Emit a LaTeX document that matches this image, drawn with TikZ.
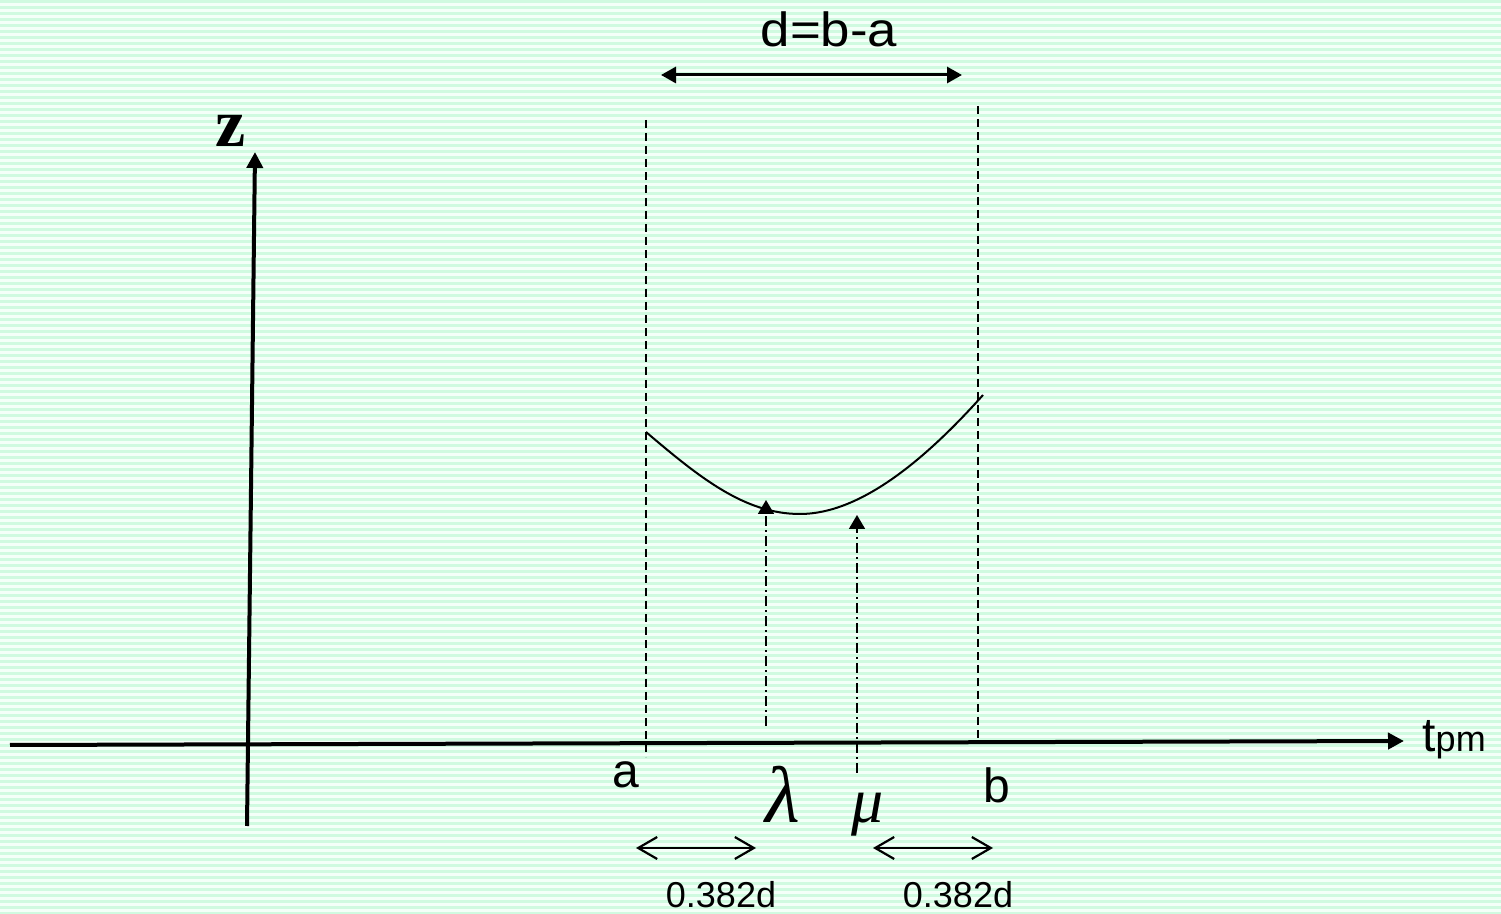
\documentclass[tikz,border=0pt]{standalone}
\usepackage{fontspec}
\setmainfont{Liberation Sans}
\newfontfamily\serifgr{Liberation Serif}
\usetikzlibrary{arrows.meta}
\definecolor{bgwhite}{RGB}{244,255,248}
\definecolor{bggreen}{RGB}{208,250,224}
\begin{document}
\begin{tikzpicture}[x=0.5pt,y=-0.5pt,
  axisline/.style={line width=2pt,-{Triangle[length=8pt,width=8pt]}},
  guide/.style={line width=0.7pt,dash pattern=on 4pt off 2.5pt},
  probe/.style={line width=0.9pt,dash pattern=on 5pt off 2pt on 1pt off 2pt,-{Triangle[length=7pt,width=8pt]}},
  spanarrow/.style={line width=1.5pt,{Triangle[length=7.5pt,width=8pt]}-{Triangle[length=7.5pt,width=8pt]}},
  partarrow/.style={line width=1.1pt,{Straight Barb[length=9.5pt,width=11pt]}-{Straight Barb[length=9.5pt,width=11pt]}},
  lbl/.style={inner sep=0,anchor=base,font=\fontsize{24}{28}\selectfont},
  smalllbl/.style={inner sep=0,anchor=base,font=\fontsize{18}{21}\selectfont},
  greek/.style={inner sep=0,anchor=base,font=\serifgr\itshape\fontsize{#1}{#1}\selectfont},
  curveline/.style={line width=1pt}
]
\useasboundingbox (0,0) rectangle (1501,914);
\fill[bgwhite] (0,0) rectangle (1501,914);
\foreach \i in {0,...,152} \fill[bggreen] (0,6*\i) rectangle (1501,6*\i+3);

% coordinates
\coordinate (xs) at (10,745);
\coordinate (xe) at (1404,741);
\coordinate (ys) at (247,826);
\coordinate (ye) at (255,152);
\coordinate (ga1) at (646,120);
\coordinate (ga2) at (646,757);
\coordinate (gb1) at (978,106);
\coordinate (gb2) at (978,741);
\coordinate (c0) at (646,432);
\coordinate (cm) at (800,514);
\coordinate (c1) at (983,395);
\coordinate (l0) at (766,726);
\coordinate (l1) at (766,500);
\coordinate (m0) at (857,773);
\coordinate (m1) at (857,515);
\coordinate (d0) at (661,75);
\coordinate (d1) at (962,75);
\coordinate (p0) at (636,848);
\coordinate (p1) at (756,848);
\coordinate (q0) at (873,848);
\coordinate (q1) at (993,848);

% guides
\draw[guide] (ga1) -- (ga2);
\draw[guide] (gb1) -- (gb2);

% axes
\draw[axisline] (xs) -- (xe);
\draw[axisline] (ys) -- (ye);

% curve
\draw[curveline] (c0) .. controls (700,478) and (745,514) .. (cm)
                      .. controls (860,514) and (925,460) .. (c1);

% probes
\draw[probe] (l0) -- (l1);
\draw[probe] (m0) -- (m1);

% span arrows
\draw[spanarrow] (d0) -- (d1);
\draw[partarrow] (p0) -- (p1);
\draw[partarrow] (q0) -- (q1);

% labels
\node[inner sep=0,anchor=base,font=\serifgr\bfseries\fontsize{34}{36}\selectfont] (tz) at (231,147) {z};
\node[lbl] (tdl) at (829,47) {\scalebox{1.1}[1]{d=b-a}};
\node[lbl] (ta) at (626,788) {a};
\node[lbl] (tb) at (997,803) {b};
\node[greek=40] (tlam) at (783,822) {λ};
\node[greek=32] (tmu) at (868,822) {μ};
\node[smalllbl] (tp1) at (721,907) {0.382d};
\node[smalllbl] (tp2) at (958,907) {0.382d};
\node[inner sep=0,anchor=base west,font=\fontsize{24}{28}\selectfont] (tt) at (1422,752) {t{\fontsize{18}{21}\selectfont pm}};
\end{tikzpicture}
\end{document}
